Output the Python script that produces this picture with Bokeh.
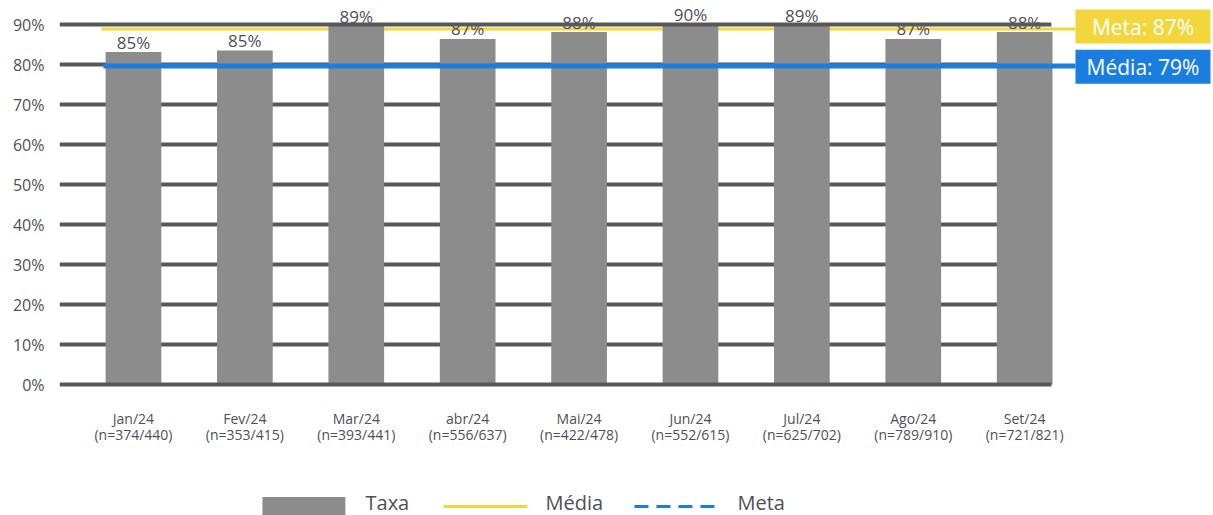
from bokeh.plotting import figure
from bokeh.models import Range1d, FixedTicker
from bokeh.core.properties import value
from bokeh.embed import file_html
from bokeh.resources import INLINE

# ---- data ----
months = ["Jan/24", "Fev/24", "Mar/24", "abr/24", "Mai/24", "Jun/24", "Jul/24", "Ago/24", "Set/24"]
counts = ["(n=374/440)", "(n=353/415)", "(n=393/441)", "(n=556/637)", "(n=422/478)",
          "(n=552/615)", "(n=625/702)", "(n=789/910)", "(n=721/821)"]
taxa = [83.1, 83.5, 89.6, 86.4, 88.1, 90.0, 89.75, 86.4, 88.1]
taxa_labels = ["85%", "85%", "89%", "87%", "88%", "90%", "89%", "87%", "88%"]
meta_line = 88.9
media_line = 79.6
meta_text = "Meta: 87%"
media_text = "Média: 79%"
y_ticks = [0, 10, 20, 30, 40, 50, 60, 70, 80, 90]
y_tick_labels = ["0%", "10%", "20%", "30%", "40%", "50%", "60%", "70%", "80%", "90%"]
legend_labels = ["Taxa", "Média", "Meta"]

FONT = value("Open Sans")
TXT = "#4f4f57"
GRAY = "#8c8c8c"
GRID = "#58585b"
YELLOW = "#f3d63c"
BLUE = "#1a7de0"

W, H = 1213, 515
xs = list(range(len(months)))
x_left, x_grid_end = -0.664, 8.24
x_right = x_left + (W - 59) / 111.4

p = figure(width=W, height=H, output_backend="svg", toolbar_location=None,
           x_range=Range1d(x_left, x_right), y_range=Range1d(-32.75, 96),
           x_axis_location=None, min_border_left=59, min_border_right=0,
           min_border_top=0, min_border_bottom=0)
p.outline_line_color = None
p.grid.visible = False
p.background_fill_color = "white"
p.border_fill_color = "white"

ya = p.yaxis[0]
ya.ticker = FixedTicker(ticks=y_ticks)
ya.major_label_overrides = {t: l for t, l in zip(y_ticks, y_tick_labels)}
ya.axis_line_color = None
ya.major_tick_line_color = None
ya.minor_tick_line_color = None
ya.major_tick_in = 0
ya.major_tick_out = 0
ya.major_label_standoff = 15
ya.major_label_text_font = "Open Sans"
ya.major_label_text_font_size = "16px"
ya.major_label_text_color = TXT

# yellow line (behind bars)
p.line(x=[-0.287, 8.456], y=[meta_line, meta_line], line_color=YELLOW, line_width=3)

# gridlines behind bars
inner = y_ticks[1:-1]
p.segment(x0=[x_left] * len(inner), y0=inner, x1=[x_grid_end] * len(inner), y1=inner,
          line_color=GRID, line_width=4)

# bars
p.vbar(x=xs, top=taxa, bottom=0, width=0.5, fill_color=GRAY, line_color=None)

# blue line over bars
p.line(x=[-0.27, 8.456], y=[media_line, media_line], line_color=BLUE, line_width=5)

# bar labels
p.text(x=xs, y=taxa, text=taxa_labels, text_align="center", text_baseline="middle",
       y_offset=-10, text_font=FONT, text_font_size="17px", text_color=TXT)

# top and bottom gridlines drawn on top
outer = [y_ticks[0], y_ticks[-1]]
p.segment(x0=[x_left] * 2, y0=outer, x1=[x_grid_end] * 2, y1=outer,
          line_color=GRID, line_width=4)

# category labels
p.text(x=xs, y=[0] * len(xs), text=months, text_align="center", text_baseline="middle",
       y_offset=34, text_font=FONT, text_font_size="14px", text_color=TXT)
p.text(x=xs, y=[0] * len(xs), text=counts, text_align="center", text_baseline="middle",
       y_offset=50, text_font=FONT, text_font_size="14px", text_color=TXT)

# right-side boxes
bx = 9.062
bw = 1.212
p.rect(x=[bx], y=[meta_line + 0.6], width=bw, height=34, height_units="screen",
       fill_color=YELLOW, line_color=None)
p.rect(x=[bx], y=[media_line - 0.15], width=bw, height=34, height_units="screen",
       fill_color=BLUE, line_color=None)
p.text(x=[bx, bx], y=[meta_line + 0.6, media_line - 0.15], text=[meta_text, media_text],
       text_align="center", text_baseline="middle", text_font=FONT,
       text_font_size="21px", text_color="white")

# legend (manual)
ly = -30.5
p.rect(x=[1.53], y=[ly], width=0.745, height=19, height_units="screen",
       fill_color=GRAY, line_color=None)
p.line(x=[2.783, 3.537], y=[ly, ly], line_color=YELLOW, line_width=3)
p.line(x=[4.497, 5.251], y=[ly, ly], line_color=BLUE, line_width=3, line_dash="14 8")
p.text(x=[2.083, 3.698, 5.422], y=[ly] * 3, text=legend_labels, text_align="left",
       text_baseline="middle", y_offset=-4, text_font=FONT, text_font_size="20px",
       text_color=TXT)

open("out.html", "w").write(file_html(p, INLINE))
